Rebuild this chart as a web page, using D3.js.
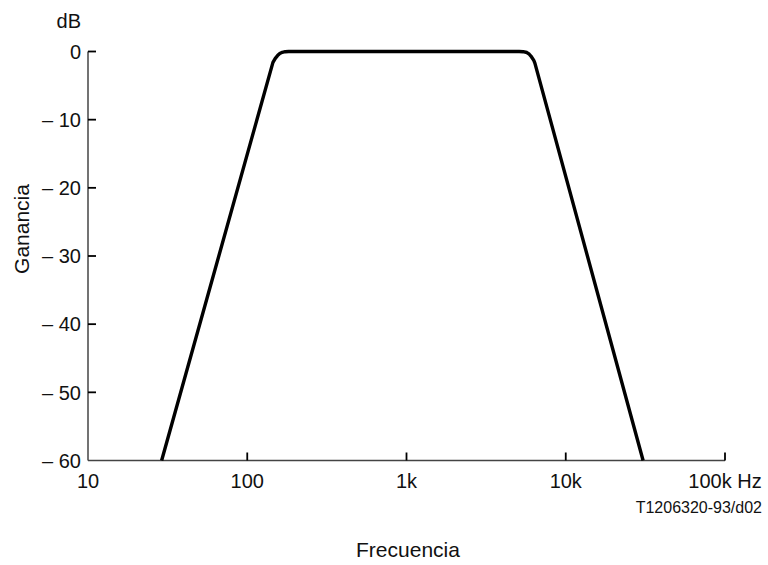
<!DOCTYPE html>
<html><head><meta charset="utf-8">
<script src="https://cdn.jsdelivr.net/npm/d3@7"></script>
<style>body{margin:0;background:#fff;} text{font-family:"Liberation Sans",Arial,sans-serif;fill:#111;}</style>
</head><body><svg id="c" width="768" height="565"></svg>
<script>
// Data
const freqHz = [29, 145, 150, 155, 160, 166, 173, 182, 5100, 5400, 5700, 5900, 6100, 6300, 6400, 30600];
const gainDb = [-60, -1.6, -1.0, -0.6, -0.3, -0.12, -0.03, 0, 0, -0.03, -0.15, -0.4, -0.8, -1.3, -1.7, -60];
const xTickValues = [10, 100, 1000, 10000, 100000];
const xTickLabels = ["10", "100", "1k", "10k", "100k Hz"];
const yTickValues = [0, -10, -20, -30, -40, -50, -60];
const yTickLabels = ["0", "\u2013 10", "\u2013 20", "\u2013 30", "\u2013 40", "\u2013 50", "\u2013 60"];

const svg = d3.select("#c");
const x = d3.scaleLog().domain([10, 100000]).range([88, 725]);
const y = d3.scaleLinear().domain([-60, 0]).range([460.5, 51.5]);
const axisColor = "#444";

// Y axis
const yAxis = svg.append("g").attr("transform", "translate(88,0)");
yAxis.append("line").attr("x1",0).attr("x2",0).attr("y1",y(0)).attr("y2",y(-60)).attr("stroke",axisColor).attr("stroke-width",1.5);
yTickValues.forEach((v,i)=>{
  if (v !== -60) yAxis.append("line").attr("x1",0).attr("x2",8).attr("y1",y(v)).attr("y2",y(v)).attr("stroke","#000").attr("stroke-width",1.8);
  yAxis.append("text").attr("x",-7).attr("y",y(v)).attr("dy","0.36em").attr("text-anchor","end").attr("font-size",20).text(yTickLabels[i]);
});

// X axis
const xAxis = svg.append("g").attr("transform","translate(0,"+y(-60)+")");
xAxis.append("line").attr("x1",x(10)).attr("x2",x(100000)).attr("y1",0).attr("y2",0).attr("stroke",axisColor).attr("stroke-width",1.5);
xTickValues.forEach((v,i)=>{
  if (v !== 10) xAxis.append("line").attr("x1",x(v)).attr("x2",x(v)).attr("y1",0).attr("y2",-8).attr("stroke","#000").attr("stroke-width",1.8);
  xAxis.append("text").attr("x",x(v)).attr("y",27).attr("text-anchor","middle").attr("font-size",20).text(xTickLabels[i]);
});

// Curve
const line = d3.line().x((d,i)=>x(freqHz[i])).y((d,i)=>y(gainDb[i])).curve(d3.curveLinear);
svg.append("path").datum(freqHz).attr("d",line).attr("fill","none").attr("stroke","#000").attr("stroke-width",3.4).attr("stroke-linejoin","round");

// Labels
svg.append("text").attr("x",81).attr("y",28).attr("text-anchor","end").attr("font-size",20).text("dB");
svg.append("text").attr("transform","translate(29,229) rotate(-90)").attr("text-anchor","middle").attr("font-size",21).text("Ganancia");
svg.append("text").attr("x",408).attr("y",556.5).attr("text-anchor","middle").attr("font-size",21).text("Frecuencia");
svg.append("text").attr("x",762).attr("y",513).attr("text-anchor","end").attr("font-size",16).text("T1206320-93/d02");
</script></body></html>
